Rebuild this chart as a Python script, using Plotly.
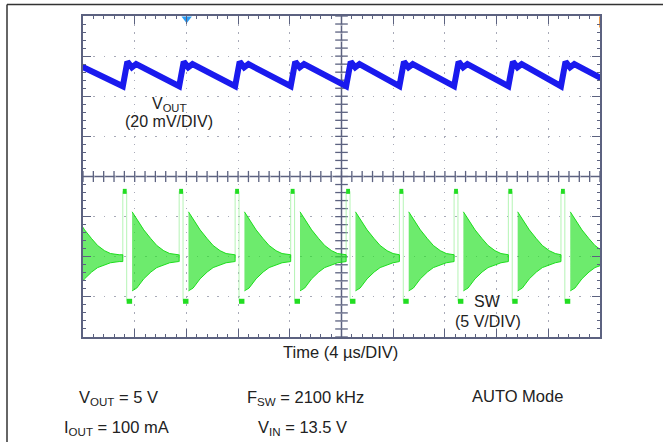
import plotly.graph_objects as go

# ---- data (time in µs, amplitude in divisions) ----
pulse_t = [-1.5, 3.08, 7.44, 11.77, 16.07, 20.36, 24.48, 28.71, 32.91, 36.98]

# SW node: switching levels (div) and ringing envelope after each pulse
sw_high = -0.37
sw_low = -3.11
sw_settle = -2.03
sw_high_dur = 0.3
sw_low_end = 0.72
ring_dt = [0.72, 1.08, 1.62, 2.17, 2.63, 3.17, 3.63, 4.3]
ring_top = [-0.88, -1.05, -1.33, -1.55, -1.72, -1.85, -1.92, -1.95]
ring_bot = [-2.85, -2.78, -2.55, -2.38, -2.27, -2.20, -2.15, -2.12]

# VOUT ripple shape after each pulse
vout_dt = [0.0, 0.35, 0.7, 1.03]
vout_v = [2.25, 2.86, 2.72, 2.80]

FRAME = "#5c6280"
W, H = 663, 442
X0, X1, Y0, Y1 = 83, 600, 16, 337

def px(x):
    return x / W

def py(y):
    return 1 - y / H

# ---- build traces ----
vx, vy = [], []
for i, t0 in enumerate(pulse_t):
    for dt, v in zip(vout_dt, vout_v):
        vx.append(t0 + dt)
        vy.append(v)
vx.append(pulse_t[-1] + 4.3)
vy.append(vout_v[0])

ex, ey = [], []
for i, t0 in enumerate(pulse_t):
    t_next = pulse_t[i + 1] if i + 1 < len(pulse_t) else t0 + ring_dt[-1]
    span = t_next - t0
    pts = [(d, tp, bt) for d, tp, bt in zip(ring_dt, ring_top, ring_bot) if d < span]
    pts.append((span, ring_top[-1], ring_bot[-1]))
    for d, tp, bt in pts:
        ex.append(t0 + d)
        ey.append(tp)
    for d, tp, bt in reversed(pts):
        ex.append(t0 + d)
        ey.append(bt)
    ex.append(None)
    ey.append(None)

edx, edy, blx, bly = [], [], [], []
for t0 in pulse_t:
    edx += [t0, t0, None, t0 + sw_high_dur, t0 + sw_high_dur, None]
    edy += [sw_settle, sw_high, None, sw_high, sw_low, None]
    blx += [t0, t0 + sw_high_dur, None, t0 + sw_high_dur, t0 + sw_low_end, None]
    bly += [sw_high, sw_high, None, sw_low, sw_low, None]

fig = go.Figure()

minor_x = [k * 0.8 for k in range(51)]
minor_y = [-4 + k * 0.2 for k in range(41)]
fig.add_trace(go.Scatter(x=minor_x, y=[0] * len(minor_x), mode="markers",
                         marker=dict(symbol="line-ns", size=8, line=dict(color=FRAME, width=1.3)),
                         hoverinfo="skip", showlegend=False))
fig.add_trace(go.Scatter(x=[20] * len(minor_y), y=minor_y, mode="markers",
                         marker=dict(symbol="line-ew", size=9, line=dict(color=FRAME, width=1.3)),
                         hoverinfo="skip", showlegend=False))

fig.add_trace(go.Scatter(x=edx, y=edy, mode="lines",
                         line=dict(color="rgba(150,240,150,0.7)", width=1),
                         hoverinfo="skip", showlegend=False))
fig.add_trace(go.Scatter(x=ex, y=ey, mode="lines", fill="toself",
                         fillcolor="rgba(40,225,40,0.68)",
                         line=dict(color="rgba(20,220,20,0.95)", width=1),
                         hoverinfo="skip", showlegend=False))
fig.add_trace(go.Scatter(x=blx, y=bly, mode="lines",
                         line=dict(color="#22dd22", width=5),
                         hoverinfo="skip", showlegend=False))
fig.add_trace(go.Scatter(x=vx, y=vy, mode="lines",
                         line=dict(color="#1a1aee", width=6),
                         hoverinfo="skip", showlegend=False))

fig.add_trace(go.Scatter(x=[-0.3], y=[-3.05], mode="markers", cliponaxis=False,
                         marker=dict(symbol="square", size=9, color="#9cf59c",
                                     line=dict(color="#22dd22", width=2)),
                         hoverinfo="skip", showlegend=False))
fig.add_trace(go.Scatter(x=[-0.35], y=[2.6], mode="markers", cliponaxis=False,
                         marker=dict(symbol="triangle-right", size=5, color="#1a1aee"),
                         hoverinfo="skip", showlegend=False))
fig.add_trace(go.Scatter(x=[8.02], y=[3.93], mode="markers", cliponaxis=False,
                         marker=dict(symbol="triangle-down", size=9, color="#2a9df4"),
                         hoverinfo="skip", showlegend=False))
fig.add_trace(go.Scatter(x=[40], y=[3.85], mode="markers", cliponaxis=False,
                         marker=dict(symbol="line-ns", size=8, line=dict(color="#f0a050", width=2)),
                         hoverinfo="skip", showlegend=False))

axis_common = dict(showticklabels=False, showline=True, linecolor=FRAME, linewidth=1.5,
                   mirror="ticks", ticks="inside", ticklen=8, tickcolor=FRAME, tickwidth=1.2,
                   zeroline=False, showgrid=True, gridcolor="#a8aab8", gridwidth=1.2,
                   fixedrange=True)

fig.update_layout(
    width=W, height=H,
    margin=dict(l=0, r=0, t=0, b=0),
    paper_bgcolor="white", plot_bgcolor="white",
    showlegend=False,
    font=dict(family="Arial, Liberation Sans, sans-serif", size=16, color="#222222"),
    xaxis=dict(domain=[px(X0), px(X1)], range=[0, 40], tick0=0, dtick=4,
               griddash="1.5px,6.5px",
               minor=dict(dtick=0.8, ticks="inside", ticklen=3, tickcolor=FRAME, showgrid=False),
               **axis_common),
    yaxis=dict(domain=[py(Y1), py(Y0)], range=[-4, 4], tick0=-4, dtick=1,
               griddash="1.5px,8.84px",
               minor=dict(dtick=0.2, ticks="inside", ticklen=3, tickcolor=FRAME, showgrid=False),
               **axis_common),
    shapes=[
        dict(type="line", xref="x", yref="y", x0=0, x1=40, y0=0, y1=0,
             line=dict(color=FRAME, width=1.5), layer="below"),
        dict(type="line", xref="x", yref="y", x0=20, x1=20, y0=-4, y1=4,
             line=dict(color=FRAME, width=1.5), layer="below"),
        dict(type="line", xref="paper", yref="paper", x0=px(7), x1=1, y0=py(4.5), y1=py(4.5),
             line=dict(color="#333333", width=1.5)),
        dict(type="line", xref="paper", yref="paper", x0=px(7), x1=px(7), y0=py(4.5), y1=0,
             line=dict(color="#333333", width=1.5)),
    ],
)

def ann(text, x, y, size, xanchor="center"):
    fig.add_annotation(text=text, x=px(x), y=py(y), xref="paper", yref="paper",
                       xanchor=xanchor, yanchor="middle", showarrow=False,
                       font=dict(size=size, family="Arial, Liberation Sans, sans-serif",
                                 color="#222222"))

ann("V<sub>OUT</sub>", 169, 104, 16)
ann("(20 mV/DIV)", 168.5, 121, 16)
ann("SW", 487, 301, 16)
ann("(5 V/DIV)", 488, 321, 16)
ann("Time (4 µs/DIV)", 341, 352, 16.5)
ann("V<sub>OUT</sub> = 5 V", 77, 398, 16.5, "left")
ann("F<sub>SW</sub> = 2100 kHz", 245, 398, 16.5, "left")
ann("AUTO Mode", 470, 396, 16.5, "left")
ann("I<sub>OUT</sub> = 100 mA", 62, 428, 16.5, "left")
ann("V<sub>IN</sub> = 13.5 V", 256, 428, 16.5, "left")

fig.write_html("out.html", config={"displayModeBar": False},
               post_script="document.body.style.margin='0';document.body.style.overflow='hidden';")
